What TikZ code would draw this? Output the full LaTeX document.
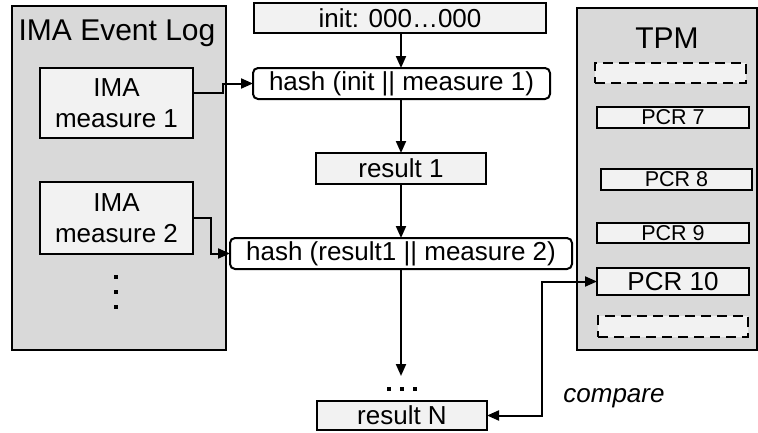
\documentclass[tikz,border=0pt]{standalone}
\usepackage{fontspec}
\setmainfont{Liberation Sans}
\usetikzlibrary{arrows.meta}
\definecolor{panel}{HTML}{D9D9D9}
\definecolor{cell}{HTML}{F2F2F2}
\tikzset{
  every node/.style={inner sep=0pt, outer sep=0pt},
  panelbox/.style={draw, line width=2pt, fill=panel},
  cellbox/.style={draw, line width=2pt, fill=cell, font=\fontsize{26}{31}\selectfont, align=center},
  hashbox/.style={draw, line width=2pt, fill=white, rounded corners=5pt, font=\fontsize{26}{31}\selectfont},
  pcrbox/.style={draw, line width=2pt, fill=cell, font=\fontsize{21.5}{24}\selectfont},
  emptybox/.style={draw, line width=2pt, fill=cell, dash pattern=on 10pt off 6pt},
  title/.style={font=\fontsize{30}{34}\selectfont},
  arr/.style={line width=2pt, -{Triangle[length=12pt,width=10pt]}},
  dblarr/.style={line width=2pt, {Triangle[length=12pt,width=10pt]}-{Triangle[length=12pt,width=10pt]}},
}
\begin{document}
\begin{tikzpicture}[x=1pt,y=-1pt]
\useasboundingbox (0,0) rectangle (758,432);

% IMA event log panel
\node[panelbox, minimum width=214pt, minimum height=344pt] (log) at (119,178) {};
\node[title] (logtitle) at (117,33) {IMA Event Log};
\node[cellbox, minimum width=153pt, minimum height=70pt] (m1) at (116.5,103) {IMA\\measure 1};
\node[cellbox, minimum width=153pt, minimum height=72pt] (m2) at (116.5,218) {IMA\\measure 2};
\foreach \yy in {277,292,307}
  \fill (114,\yy-2) rectangle (118,\yy+2);

% TPM panel
\node[panelbox, minimum width=180pt, minimum height=342pt] (tpm) at (667,179) {};
\node[title] (tpmtitle) at (667,38) {TPM};
\node[emptybox, minimum width=151pt, minimum height=20pt] (e1) at (670.5,73) {};
\node[pcrbox, minimum width=152pt, minimum height=21pt] (p7) at (673,117.5) {PCR 7};
\node[pcrbox, minimum width=151pt, minimum height=21pt] (p8) at (676.5,179.5) {PCR 8};
\node[pcrbox, minimum width=152pt, minimum height=20pt] (p9) at (673,233) {PCR 9};
\node[cellbox, minimum width=152pt, minimum height=27pt] (p10) at (673,281.5) {PCR 10};
\node[emptybox, minimum width=150pt, minimum height=21pt] (e2) at (673,326.5) {};

% hash chain
\node[cellbox, minimum width=292pt, minimum height=30pt] (init) at (400,18) {init: 000…000};
\node[hashbox, minimum width=297pt, minimum height=31pt] (h1) at (401.5,83.5) {hash (init || measure 1)};
\node[cellbox, minimum width=170pt, minimum height=31pt] (r1) at (401,168.5) {result 1};
\node[hashbox, minimum width=342pt, minimum height=31pt] (h2) at (401,253.5) {hash (result1 || measure 2)};
\node[cellbox, minimum width=170pt, minimum height=29pt] (rN) at (402,415.5) {result N};
\coordinate (gap) at (401,376);
\foreach \xx in {389,402,415}
  \fill (\xx-2,387) rectangle (\xx+2,391);

\node[font=\fontsize{26}{31}\selectfont\itshape] (cmp) at (614,398) {compare};

% connectors
\draw[arr] (init.south -| 401,0) -- (h1.north -| 401,0);
\draw[arr] (h1.south -| 401,0) -- (r1.north -| 401,0);
\draw[arr] (r1.south -| 401,0) -- (h2.north -| 401,0);
\draw[arr] (h2.south -| 401,0) -- (gap);
\draw[arr] ([yshift=10pt]m1.east) -- ++(30pt,0) |- (h1.west);
\draw[arr] (m2.east) -- ++(18pt,0) |- (h2.west);
\draw[dblarr] (rN.east) -- ++(55pt,0) |- (p10.west);
\end{tikzpicture}
\end{document}
